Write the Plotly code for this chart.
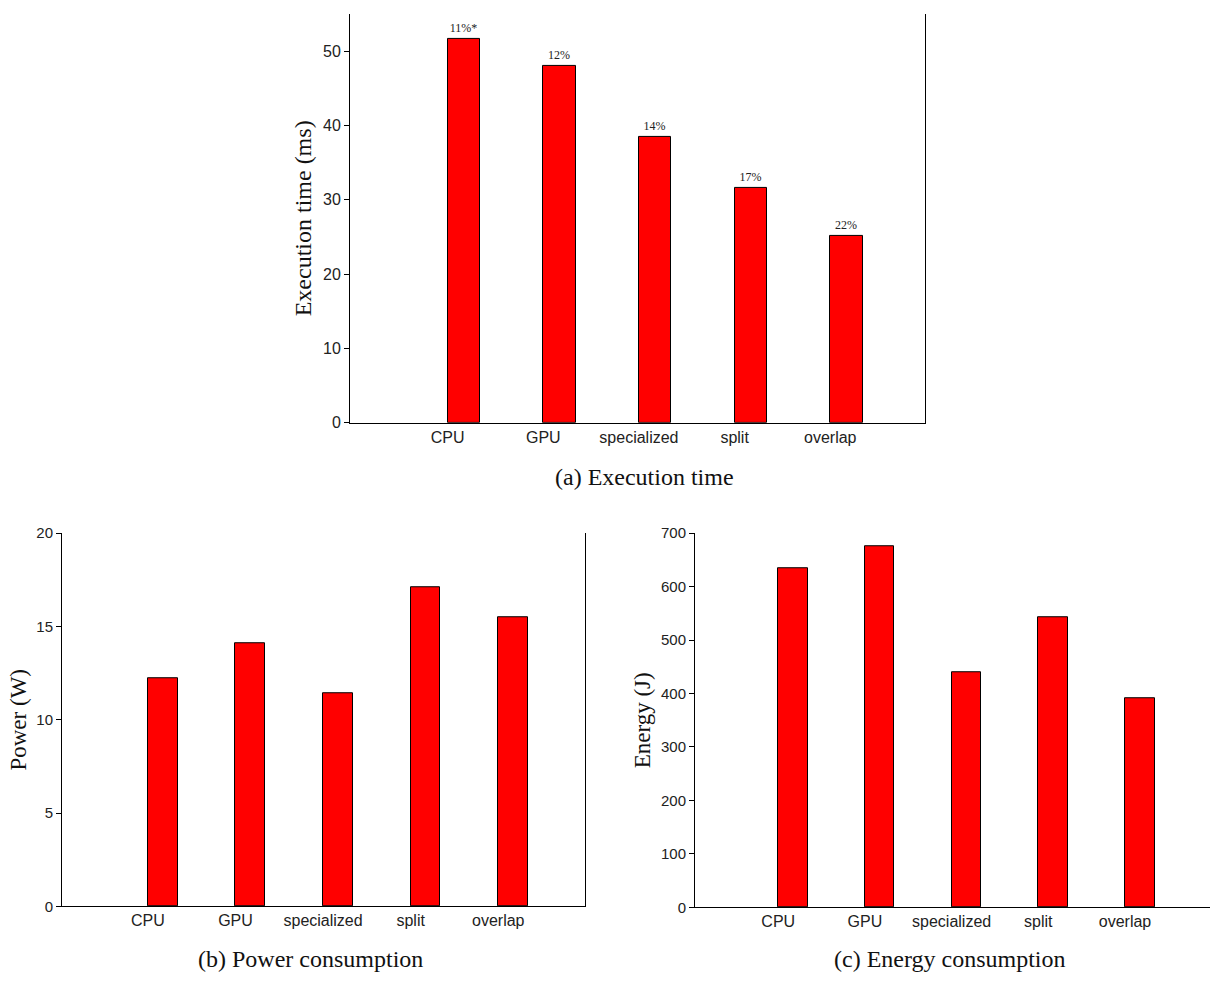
import plotly.graph_objects as go

categories = ["CPU", "GPU", "specialized", "split", "overlap"]
exec_time_ms = [51.7, 48.0, 38.5, 31.6, 25.1]
exec_labels = ["11%*", "12%", "14%", "17%", "22%"]
power_w = [12.2, 14.1, 11.4, 17.1, 15.5]
energy_j = [634, 676, 440, 543, 391]

W, H = 1210, 985

def px_x(p):
    return p / W

def px_y(p):
    return (H - p) / H

fig = go.Figure()

bar_style = dict(marker=dict(color="#ff0000", line=dict(color="#000000", width=1)),
                 width=0.34, offset=0, showlegend=False, hoverinfo="x+y")

fig.add_trace(go.Bar(x=categories, y=exec_time_ms, text=exec_labels, textposition="outside",
                     textfont=dict(family="Liberation Serif", size=12, color="#222"),
                     cliponaxis=False, xaxis="x", yaxis="y", **bar_style))
fig.add_trace(go.Bar(x=categories, y=power_w, xaxis="x2", yaxis="y2", **bar_style))
fig.add_trace(go.Bar(x=categories, y=energy_j, xaxis="x3", yaxis="y3", **bar_style))

tickfont = dict(family="Liberation Sans", size=16, color="#222")

def xaxis(domain, rng, anchor):
    return dict(domain=domain, range=rng, anchor=anchor, type="category",
                showline=True, linecolor="#000", linewidth=1, ticks="",
                showgrid=False, zeroline=False, tickfont=tickfont, mirror=False)

def yaxis(domain, rng, dtick, anchor, title, mirror, tsize, standoff, title_size):
    return dict(domain=domain, range=rng, dtick=dtick, anchor=anchor,
                showline=True, linecolor="#000", linewidth=1, ticks="outside",
                ticklen=5, tickcolor="#000", showgrid=False, zeroline=False,
                tickfont=dict(family="Liberation Sans", size=tsize, color="#222"),
                mirror=mirror,
                title=dict(text=title,
                           font=dict(family="Liberation Serif", size=title_size, color="#111"),
                           standoff=standoff))

fig.update_layout(
    width=W, height=H, autosize=False,
    margin=dict(l=0, r=0, t=0, b=0),
    paper_bgcolor="white", plot_bgcolor="white",
    bargap=0,
    xaxis=xaxis([px_x(350), px_x(925)], [-1.02, 4.99], "y"),
    yaxis=yaxis([px_y(421.5), px_y(5)], [0, 55], 10, "x", "Execution time (ms)", True, 16, 4, 24),
    xaxis2=xaxis([px_x(62), px_x(585)], [-0.98, 4.99], "y2"),
    yaxis2=yaxis([px_y(914), px_y(534)], [0, 20], 5, "x2", "Power (W)", True, 15, 3, 23),
    xaxis3=xaxis([px_x(695), 1.0], [-0.96, 4.98], "y3"),
    yaxis3=yaxis([px_y(915), px_y(534)], [0, 700], 100, "x3", "Energy (J)", False, 15, 3, 23),
)

caption_font = dict(family="Liberation Serif", size=24, color="#111")
fig.add_annotation(text="(a) Execution time", x=px_x(644), y=px_y(477), xref="paper", yref="paper",
                   showarrow=False, font=caption_font, xanchor="center", yanchor="middle")
fig.add_annotation(text="(b) Power consumption", x=px_x(310), y=px_y(968), xref="paper", yref="paper",
                   showarrow=False, font=caption_font, xanchor="center", yanchor="middle")
fig.add_annotation(text="(c) Energy consumption", x=px_x(950), y=px_y(968), xref="paper", yref="paper",
                   showarrow=False, font=caption_font, xanchor="center", yanchor="middle")

post = (
    "document.documentElement.style.margin='0';document.documentElement.style.padding='0';"
    "document.documentElement.style.overflow='hidden';"
    "document.body.style.margin='0';document.body.style.padding='0';"
    "document.body.style.overflow='hidden';"
    "var gd=document.getElementById('{plot_id}');"
    "gd.style.position='fixed';gd.style.top='0px';gd.style.left='0px';"
)
fig.write_html("out.html", config={"displayModeBar": False}, post_script=post)
